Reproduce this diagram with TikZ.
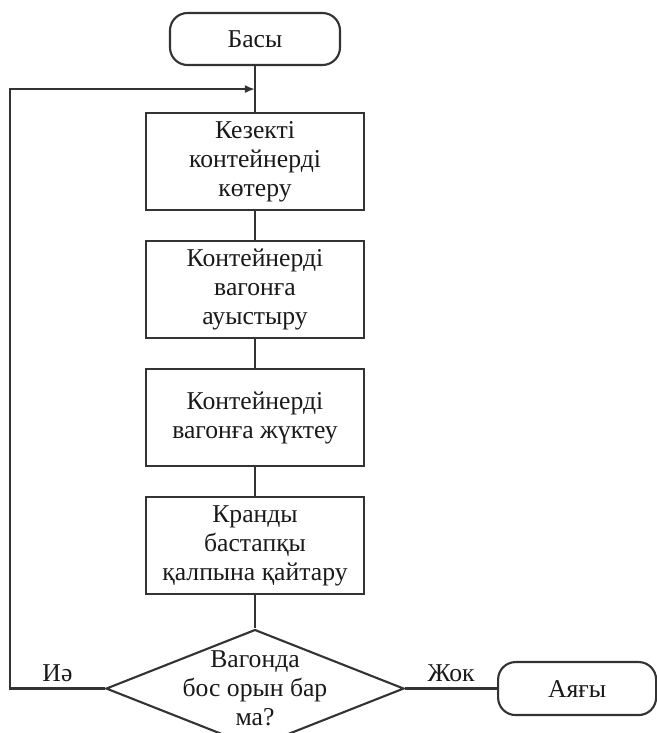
\documentclass[tikz,border=0pt]{standalone}
\usepackage{fontspec}
\setmainfont{Liberation Serif}
\usetikzlibrary{positioning, calc, shapes.geometric, arrows.meta}
\tikzset{
	node distance = 0.58cm,
	every node/.style = {
		font = \fontsize{14.6}{16.4}\selectfont,
		text = black!90
	},
	line/.style = {
		draw = black!80,
		line width = 1.2pt
	},
	terminal/.style = {
		line,
		rounded corners = 0.35cm,
		minimum width = 3.4cm,
		minimum height = 1.04cm
	},
	block/.style = {
		line,
		align = center,
		minimum width = 4.36cm,
		minimum height = 1.94cm
	},
	decision/.style = {
		line,
		diamond,
		inner sep = 0pt,
		minimum width = 5.96cm,
		minimum height = 2.36cm
	}
}

\begin{document}
\begin{tikzpicture}
		\useasboundingbox (-5.1, 0.78) rectangle (8.02, -13.88);

		\node[terminal]                      (start) {Басы};
		\node[block, below = 0.92cm of start] (B1)   {Кезекті\\контейнерді\\көтеру};
		\node[block, below = of B1]          (B2)    {Контейнерді\\вагонға\\ауыстыру};
		\node[block, below = of B2]          (B3)    {Контейнерді\\вагонға жүктеу};
		\node[block, below = of B3]          (B4)    {Кранды\\бастапқы\\қалпына қайтару};
		\node[decision, below = 0.66cm of B4] (D)    {};
		\node[align = center] (Dtext) at (D) {Вагонда\\бос орын бар\\ма?};
		\node[terminal, minimum width = 3.16cm, minimum height = 1.06cm,
			right = 1.84cm of D]             (stop)  {Аяғы};

		\coordinate (join) at ($(start.south)!0.5!(B1.north)$);
		\coordinate (back) at ([xshift=-1.9cm]D.west);

		\draw[line] (start) -- (B1);
		\draw[line] (B1) -- (B2);
		\draw[line] (B2) -- (B3);
		\draw[line] (B3) -- (B4);
		\draw[line] (B4) -- (D);

		\draw[line, -{Latex[length=2mm, width=1.6mm]}] (D.west) -- node[above] {Иә} (back) |- (join);
		\draw[line] (D.east) -- node[above] {Жок} (stop);

	\end{tikzpicture}
\end{document}
